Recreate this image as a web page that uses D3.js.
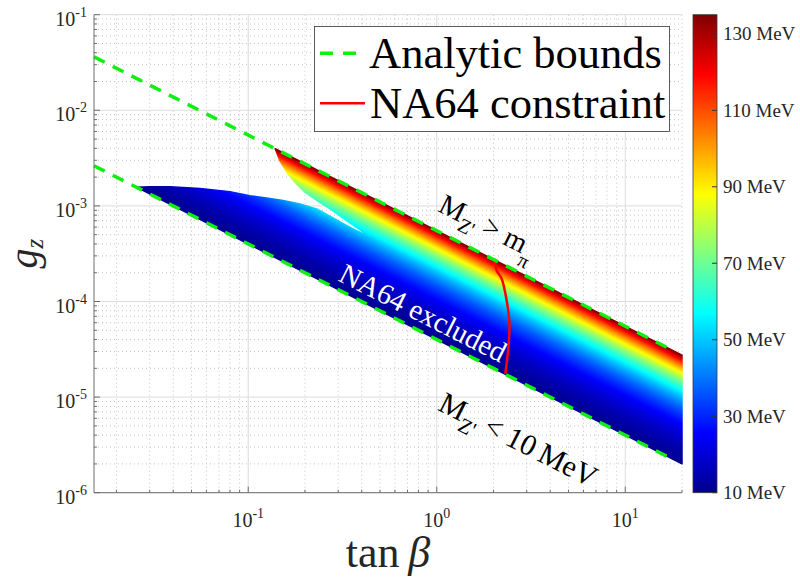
<!DOCTYPE html>
<html>
<head>
<meta charset="utf-8">
<script src="https://cdn.jsdelivr.net/npm/d3@7"></script>
<style>
  body { margin: 0; background: #fff; }
  text { font-family: "Liberation Serif", "Times New Roman", serif; }
</style>
</head>
<body>
<div id="chart"></div>
<script>
// analytic bounds (g_z * tan(beta) = const)
var boundUpper = [[0.0152, 3.62e-2], [18, 3.06e-5]];
var boundLower = [[0.0152, 2.63e-3], [18, 2.22e-6]];
// Z' mass on the two bounds (MeV)
var massUpper = 135, massLower = 10;
// g_z of each bound at tan(beta) = 1
var gUpperAt1 = 5.5e-4, gLowerAt1 = 4.0e-5;

// outline of the scanned (allowed) points [tanBeta, g_z]
var regionPts = [
  [0.0255, 1.57e-3], [20, 2.0e-6], [20, 2.75e-5], [0.139, 3.96e-3],
  [0.147, 2.98e-3], [0.160, 2.25e-3], [0.177, 1.77e-3], [0.200, 1.39e-3],
  [0.231, 1.14e-3], [0.272, 9.30e-4], [0.333, 7.02e-4], [0.408, 5.30e-4],
  [0.452, 4.70e-4],
  [0.408, 5.09e-4], [0.347, 5.97e-4], [0.282, 7.49e-4], [0.231, 9.30e-4],
  [0.188, 1.05e-3], [0.153, 1.14e-3], [0.125, 1.21e-3], [0.102, 1.28e-3],
  [0.080, 1.41e-3], [0.0554, 1.52e-3], [0.0384, 1.59e-3], [0.0301, 1.59e-3]
];

// NA64 constraint curve [tanBeta, g_z]
var na64Pts = [
  [2.02, 2.80e-4], [2.08, 2.11e-4], [2.21, 1.73e-4], [2.35, 1.02e-4],
  [2.43, 5.85e-5], [2.40, 3.33e-5], [2.31, 1.75e-5]
];

var xTicks = [0.1, 1, 10];
var yTicks = [1e-6, 1e-5, 1e-4, 1e-3, 1e-2, 1e-1];
var cbTicks = [10, 30, 50, 70, 90, 110, 130];
var cbRange = [10, 135];

var W = 800, H = 578;
var plot = {left: 94, right: 682, top: 14.7, bottom: 492.7};
var serif = '"Liberation Serif", "Times New Roman", serif';

var svg = d3.select('#chart').append('svg')
    .attr('width', W)
    .attr('height', H)
    .attr('font-family', serif);

var x = d3.scaleLog().domain([0.0152, 20]).range([plot.left, plot.right]);
var y = d3.scaleLog().domain([1e-6, 1e-1]).range([plot.bottom, plot.top]);

// matlab jet
var jetStops = [0, 0.125, 0.375, 0.625, 0.875, 1];
var jetColors = ['#00008f', '#0000ff', '#00ffff', '#ffff00', '#ff0000', '#800000'];
var jet = d3.scaleLinear()
    .domain(jetStops.map(function(f) { return cbRange[0] + f * (cbRange[1] - cbRange[0]); }))
    .range(jetColors)
    .clamp(true);

function minorValues(scale) {
  var dom = scale.domain(), out = [];
  for (var k = -7; k <= 2; k++) {
    for (var m = 2; m <= 9; m++) {
      var v = m * Math.pow(10, k);
      if (v >= dom[0] * 0.999 && v <= dom[1] * 1.001) out.push(v);
    }
  }
  return out;
}
var xMinor = minorValues(x), yMinor = minorValues(y);

// grid
var grid = svg.append('g');
grid.selectAll('line.xmin').data(xMinor).enter().append('line')
  .attr('x1', x).attr('x2', x).attr('y1', plot.top).attr('y2', plot.bottom)
  .attr('stroke', '#c4c4c4').attr('stroke-dasharray', '1,3');
grid.selectAll('line.ymin').data(yMinor).enter().append('line')
  .attr('y1', y).attr('y2', y).attr('x1', plot.left).attr('x2', plot.right)
  .attr('stroke', '#c4c4c4').attr('stroke-dasharray', '1,3');
grid.selectAll('line.xmaj').data(xTicks).enter().append('line')
  .attr('x1', x).attr('x2', x).attr('y1', plot.top).attr('y2', plot.bottom)
  .attr('stroke', '#dcdcdc');
grid.selectAll('line.ymaj').data(yTicks).enter().append('line')
  .attr('y1', y).attr('y2', y).attr('x1', plot.left).attr('x2', plot.right)
  .attr('stroke', '#dcdcdc');

// gradient across the band, perpendicular to the bounds
var ux = x(10) - x(1), uy = y(gUpperAt1 / 10) - y(gUpperAt1);
var ulen = Math.sqrt(ux * ux + uy * uy);
ux /= ulen; uy /= ulen;
var pHi = [x(1), y(gUpperAt1)];
var dv = y(gLowerAt1) - y(gUpperAt1);
var pLo = [pHi[0] - dv * ux * uy, pHi[1] + dv * ux * ux];

var defs = svg.append('defs');
var grad = defs.append('linearGradient')
  .attr('id', 'massGrad')
  .attr('gradientUnits', 'userSpaceOnUse')
  .attr('x1', pHi[0]).attr('y1', pHi[1])
  .attr('x2', pLo[0]).attr('y2', pLo[1]);
var lgHi = Math.log10(gUpperAt1), lgLo = Math.log10(gLowerAt1);
d3.range(0, 61).forEach(function(i) {
  var f = i / 60;
  var g = Math.pow(10, lgHi + (lgLo - lgHi) * f);
  var mass = massLower + (massUpper - massLower) * (g - gLowerAt1) / (gUpperAt1 - gLowerAt1);
  grad.append('stop').attr('offset', f).attr('stop-color', jet(mass));
});

var line = d3.line()
  .x(function(d) { return x(d[0]); })
  .y(function(d) { return y(d[1]); });

svg.append('path')
  .datum(regionPts)
  .attr('d', function(d) { return line(d) + 'Z'; })
  .attr('fill', 'url(#massGrad)')
  .attr('stroke', 'url(#massGrad)')
  .attr('stroke-width', 1.5)
  .attr('stroke-linejoin', 'round');

// NA64 line
svg.append('path')
  .datum(na64Pts)
  .attr('d', line.curve(d3.curveCatmullRom))
  .attr('fill', 'none')
  .attr('stroke', '#ff0000')
  .attr('stroke-width', 2.5);
line.curve(d3.curveLinear);

// analytic bounds
[boundUpper, boundLower].forEach(function(b) {
  svg.append('path')
    .datum(b)
    .attr('d', line)
    .attr('fill', 'none')
    .attr('stroke', '#11ee11')
    .attr('stroke-width', 3.5)
    .attr('stroke-dasharray', '12,9');
});

// axes
var axisCol = '#6e6e6e';
svg.append('line').attr('x1', plot.left).attr('x2', plot.left)
  .attr('y1', plot.top).attr('y2', plot.bottom).attr('stroke', axisCol);
svg.append('line').attr('x1', plot.left).attr('x2', plot.right)
  .attr('y1', plot.bottom).attr('y2', plot.bottom).attr('stroke', axisCol);

svg.selectAll('line.xt').data(xTicks.map(function(v) { return [v, 6]; })
    .concat(xMinor.map(function(v) { return [v, 3]; })))
  .enter().append('line')
  .attr('x1', function(d) { return x(d[0]); }).attr('x2', function(d) { return x(d[0]); })
  .attr('y1', plot.bottom).attr('y2', function(d) { return plot.bottom - d[1]; })
  .attr('stroke', axisCol);
svg.selectAll('line.yt').data(yTicks.map(function(v) { return [v, 6]; })
    .concat(yMinor.map(function(v) { return [v, 3]; })))
  .enter().append('line')
  .attr('y1', function(d) { return y(d[0]); }).attr('y2', function(d) { return y(d[0]); })
  .attr('x1', plot.left).attr('x2', function(d) { return plot.left + d[1]; })
  .attr('stroke', axisCol);

function powLabel(sel, v) {
  sel.append('tspan').text('10');
  sel.append('tspan').attr('font-size', 14).attr('dy', -9)
    .text(String(Math.round(Math.log10(v))));
}

svg.selectAll('text.xl').data(xTicks).enter().append('text')
  .attr('x', x).attr('y', plot.bottom + 34.5)
  .attr('text-anchor', 'middle').attr('font-size', 20).attr('fill', '#262626')
  .each(function(v) { powLabel(d3.select(this), v); });

svg.selectAll('text.yl').data(yTicks).enter().append('text')
  .attr('x', plot.left - 7).attr('y', function(v) { return y(v) + 11; })
  .attr('text-anchor', 'end').attr('font-size', 20).attr('fill', '#262626')
  .each(function(v) { powLabel(d3.select(this), v); });

// axis titles
var xt = svg.append('text')
  .attr('x', (plot.left + plot.right) / 2).attr('y', 567)
  .attr('text-anchor', 'middle').attr('font-size', 44).attr('fill', '#262626');
xt.append('tspan').text('tan\u2009');
xt.append('tspan').attr('font-style', 'italic').text('\u03b2');

var yt = svg.append('text')
  .attr('transform', 'translate(37,' + ((plot.top + plot.bottom) / 2) + ') rotate(-90)')
  .attr('text-anchor', 'middle').attr('font-size', 40).attr('fill', '#262626');
yt.append('tspan').attr('font-style', 'italic').text('g');
yt.append('tspan').attr('font-style', 'italic').attr('font-size', 25).attr('dy', 6).text('z');

// annotations along the bounds
var angle = Math.atan2(uy, ux) * 180 / Math.PI;
function rotatedText(tb, g, size) {
  return svg.append('text')
    .attr('transform', 'translate(' + x(tb) + ',' + y(g) + ') rotate(' + angle + ')')
    .attr('font-size', size);
}
var a1 = rotatedText(1.0, 8.9e-4, 29).attr('fill', '#000');
a1.append('tspan').text('M');
a1.append('tspan').attr('font-size', 20).attr('dy', 8).text('Z\'');
a1.append('tspan').attr('dy', -8).text(' > m');
a1.append('tspan').attr('font-size', 20).attr('dy', 12).text('\u03c0');

var a2 = rotatedText(0.296, 1.67e-4, 29).attr('fill', '#fff');
a2.text('NA64 excluded');

var a3 = rotatedText(1.0, 7.4e-6, 30).attr('fill', '#000');
a3.append('tspan').text('M');
a3.append('tspan').attr('font-size', 21).attr('dy', 9).text('Z\'');
a3.append('tspan').attr('dy', -9).text(' < 10\u2009MeV');

// legend
var leg = svg.append('g');
leg.append('rect').attr('x', 314.5).attr('y', 26.5).attr('width', 355).attr('height', 105)
  .attr('fill', '#fff').attr('stroke', '#333').attr('stroke-width', 0.8);
leg.append('line').attr('x1', 320).attr('x2', 356).attr('y1', 53.3).attr('y2', 53.3)
  .attr('stroke', '#11ee11').attr('stroke-width', 3.5).attr('stroke-dasharray', '13,10');
leg.append('line').attr('x1', 320).attr('x2', 365).attr('y1', 103.3).attr('y2', 103.3)
  .attr('stroke', '#ff0000').attr('stroke-width', 2.5);
leg.append('text').attr('x', 369).attr('y', 68.3).attr('font-size', 44.5).text('Analytic bounds');
leg.append('text').attr('x', 370).attr('y', 118.3).attr('font-size', 44.5).text('NA64 constraint');

// colorbar
var cb = {left: 693, width: 24};
var cy = d3.scaleLinear().domain(cbRange).range([plot.bottom, plot.top]);
var cgrad = defs.append('linearGradient').attr('id', 'cbGrad')
  .attr('x1', 0).attr('y1', 1).attr('x2', 0).attr('y2', 0);
jetStops.forEach(function(f, i) {
  cgrad.append('stop').attr('offset', f).attr('stop-color', jetColors[i]);
});
svg.append('rect').attr('x', cb.left).attr('y', plot.top)
  .attr('width', cb.width).attr('height', plot.bottom - plot.top)
  .attr('fill', 'url(#cbGrad)').attr('stroke', '#3a3a3a').attr('stroke-width', 0.8);
svg.selectAll('line.cbt').data(cbTicks).enter().append('line')
  .attr('x1', cb.left + cb.width - 5).attr('x2', cb.left + cb.width)
  .attr('y1', cy).attr('y2', cy).attr('stroke', '#333');
svg.selectAll('text.cbl').data(cbTicks).enter().append('text')
  .attr('x', cb.left + cb.width + 6).attr('y', function(v) { return cy(v) + 6.5; })
  .attr('font-size', 19).attr('fill', '#262626')
  .text(function(v) { return v + ' MeV'; });
</script>
</body>
</html>
